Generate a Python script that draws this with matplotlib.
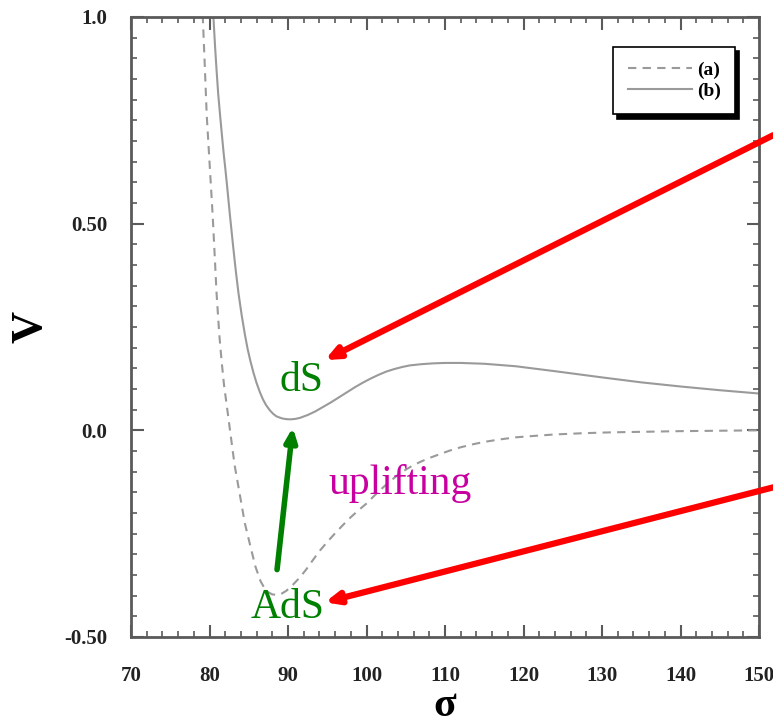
import matplotlib
matplotlib.use("Agg")
import matplotlib.pyplot as plt
from matplotlib.ticker import MultipleLocator

plt.rcParams["axes.unicode_minus"] = False

# curve (a): AdS potential (dashed)
sigma_a = [79.13, 79.4, 79.64, 79.9, 80.15, 80.4, 80.61, 80.9, 81.25, 81.55, 81.85,
           82.25, 82.61, 83.2, 83.9, 84.5, 85.2, 85.85, 86.5, 87.0, 87.5, 88.0,
           88.6, 89.2, 89.8, 90.6, 91.5, 92.3, 93.2, 94.1, 95.0, 96.0, 97.0, 98.0,
           99.0, 100.0, 101.0, 102.0, 103.0, 104.0, 105.0, 106.0, 107.0, 108.0,
           109.0, 110.6, 112.0, 113.5, 115.0, 117.0, 119.0, 121.0, 124.0, 127.6,
           131.0, 134.0, 140.0, 145.0, 150.0]
V_a = [1.005, 0.88, 0.763, 0.68, 0.60, 0.52, 0.441, 0.33, 0.23, 0.165, 0.109,
       0.052, 0.0, -0.085, -0.16, -0.225, -0.28, -0.33, -0.365, -0.382, -0.392,
       -0.397, -0.398, -0.395, -0.388, -0.374, -0.356, -0.337, -0.313, -0.29,
       -0.270, -0.249, -0.229, -0.210, -0.193, -0.177, -0.158, -0.140, -0.123,
       -0.108, -0.095, -0.084, -0.075, -0.067, -0.060, -0.049, -0.041, -0.034,
       -0.028, -0.022, -0.017, -0.014, -0.010, -0.007, -0.005, -0.004, -0.002,
       -0.001, 0.0]

# curve (b): uplifted dS potential (solid)
sigma_b = [80.48, 80.7, 80.9, 81.1, 81.34, 81.55, 81.8, 82.0, 82.19, 82.6, 83.03,
           83.35, 83.7, 84.1, 84.52, 84.85, 85.2, 85.6, 86.0, 86.4, 86.8, 87.2,
           87.7, 88.1, 88.5, 88.9, 89.3, 89.8, 90.3, 90.9, 91.5, 92.5, 93.5, 94.5,
           95.5, 96.5, 97.5, 98.5, 99.5, 100.5, 101.5, 102.5, 103.5, 104.5, 105.5,
           107.0, 108.5, 110.0, 112.0, 115.0, 119.0, 124.0, 130.0, 135.0, 140.0,
           145.0, 150.0]
V_b = [1.005, 0.93, 0.87, 0.815, 0.763, 0.72, 0.67, 0.635, 0.60, 0.52, 0.441,
       0.385, 0.33, 0.278, 0.23, 0.197, 0.168, 0.139, 0.114, 0.093, 0.075, 0.061,
       0.048, 0.040, 0.034, 0.031, 0.0285, 0.027, 0.0265, 0.0275, 0.030, 0.037,
       0.046, 0.057, 0.068, 0.080, 0.092, 0.104, 0.115, 0.125, 0.134, 0.142,
       0.148, 0.153, 0.157, 0.160, 0.162, 0.163, 0.163, 0.161, 0.155, 0.143,
       0.128, 0.116, 0.106, 0.097, 0.089]

xticks = [70, 80, 90, 100, 110, 120, 130, 140, 150]
yticks = [-0.5, 0.0, 0.5, 1.0]
ytick_labels = ["-0.50", "0.0", "0.50", "1.0"]

serif = ["Liberation Serif", "DejaVu Serif"]
spine_col = "#5a5a5a"
line_col = "#9a9a9a"

fig = plt.figure(figsize=(7.73, 7.25), dpi=100)
ax = fig.add_axes([0.1695, 0.1214, 0.8125, 0.8552])

ax.plot(sigma_a, V_a, color=line_col, lw=1.5, dashes=(4, 3), label="(a)")
ax.plot(sigma_b, V_b, color=line_col, lw=1.5, label="(b)")

ax.set_xlim(70, 150)
ax.set_ylim(-0.5, 1.0)
ax.set_xticks(xticks)
ax.set_xticklabels([str(t) for t in xticks])
ax.set_yticks(yticks)
ax.set_yticklabels(ytick_labels)
ax.xaxis.set_minor_locator(MultipleLocator(2))
ax.yaxis.set_minor_locator(MultipleLocator(0.05))

for s in ax.spines.values():
    s.set_color(spine_col)
    s.set_linewidth(2)
ax.tick_params(which="both", direction="in", top=True, right=True, color=spine_col)
ax.tick_params(which="major", length=9, width=1.5)
ax.tick_params(which="minor", length=4, width=1.2)
ax.tick_params(axis="y", which="major", pad=17)
ax.tick_params(axis="x", which="major", pad=21)
for lab in ax.get_xticklabels() + ax.get_yticklabels():
    lab.set_fontfamily(serif)
    lab.set_fontweight("bold")
    lab.set_fontsize(15)
    lab.set_color("#222222")

ax.set_xlabel("σ", fontsize=30, fontweight="bold", family=serif, va="center")
ax.set_ylabel("V", fontsize=32, fontweight="bold", family=serif, va="center")
ax.xaxis.set_label_coords(0.5, -0.112)
ax.yaxis.set_label_coords(-0.16, 0.5)

leg = ax.legend(loc="upper right", bbox_to_anchor=(0.962, 0.9516), borderaxespad=0,
                fancybox=False, shadow={"color": "black", "alpha": 1, "ox": 3, "oy": -3},
                prop={"family": serif, "weight": "bold", "size": 14},
                handlelength=3.3, handletextpad=0.25, labelspacing=0.15, borderpad=0.75)
leg.get_frame().set_edgecolor("black")
leg.get_frame().set_linewidth(1.2)
leg.get_frame().set_alpha(1)

# annotations
red_kw = dict(arrowstyle="-|>,head_length=0.8,head_width=0.35", color="red", lw=4.5,
              shrinkA=0, shrinkB=0)
ax.annotate("", xy=(94.7, 0.17), xytext=(151.8, 0.714), arrowprops=red_kw,
            annotation_clip=False)
ax.annotate("", xy=(94.7, -0.416), xytext=(151.8, -0.138), arrowprops=red_kw,
            annotation_clip=False)
ax.annotate("", xy=(90.6, 0.007), xytext=(88.6, -0.337),
            arrowprops=dict(arrowstyle="-|>,head_length=0.8,head_width=0.35",
                            color="green", lw=4, shrinkA=0, shrinkB=0))

ax.text(91.7, 0.121, "dS", color="green", fontsize=30, family=serif,
        ha="center", va="center")
ax.text(89.9, -0.43, "AdS", color="green", fontsize=30, family=serif,
        ha="center", va="center")
ax.text(104.3, -0.128, "uplifting", color="#c800a0", fontsize=30, family=serif,
        ha="center", va="center")

fig.savefig("out.png", dpi=100)
